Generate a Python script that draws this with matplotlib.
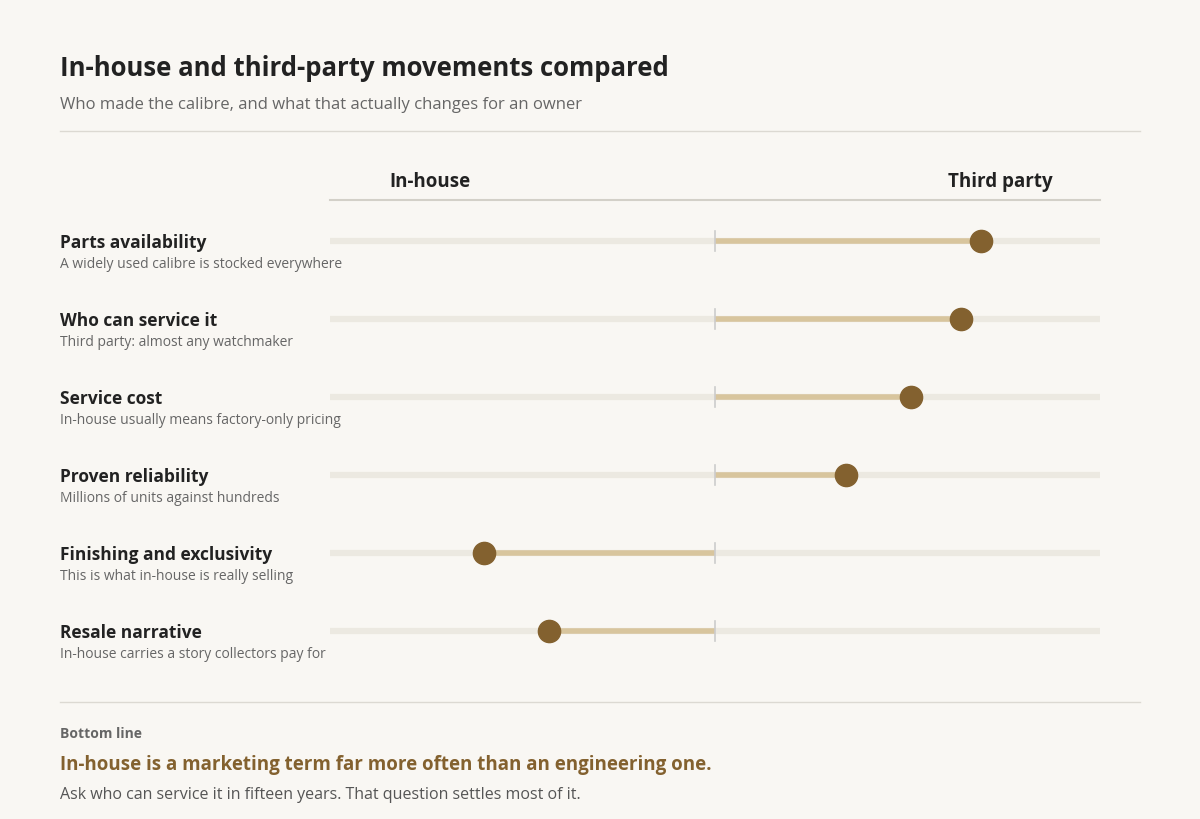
import matplotlib
matplotlib.use("Agg")
import matplotlib.pyplot as plt
from matplotlib.lines import Line2D

plt.rcParams['font.family'] = ['Open Sans', 'DejaVu Sans']

labels = ["Parts availability", "Who can service it", "Service cost",
          "Proven reliability", "Finishing and exclusivity", "Resale narrative"]
notes = ["A widely used calibre is stocked everywhere",
         "Third party: almost any watchmaker",
         "In-house usually means factory-only pricing",
         "Millions of units against hundreds",
         "This is what in-house is really selling",
         "In-house carries a story collectors pay for"]
values = [0.69, 0.64, 0.51, 0.34, -0.60, -0.43]

W, H = 1200, 820
BG = "#f9f7f3"
fig = plt.figure(figsize=(12, 8.2), dpi=100, facecolor=BG)

def fx(x): return x / W
def fy(y): return 1 - (y + 1) / H

def txt(x, y, s, **kw):
    fig.text(fx(x), fy(y), s, va="center", **kw)

def hline(x0, x1, y, color="#dcd9d2", lw=1):
    fig.add_artist(Line2D([fx(x0), fx(x1)], [fy(y), fy(y)], color=color, lw=lw,
                          transform=fig.transFigure))

txt(60, 68, "In-house and third-party movements compared", fontsize=18.5,
    fontweight="bold", color="#222222")
txt(60, 104, "Who made the calibre, and what that actually changes for an owner",
    fontsize=12, color="#666666")
hline(60, 1140, 131)
txt(430, 181, "In-house", fontsize=13.5, fontweight="bold", color="#222222", ha="center")
txt(1000, 181, "Third party", fontsize=13.5, fontweight="bold", color="#222222", ha="center")
hline(330, 1100, 200, color="#d3d0c8", lw=1.5)

ax = fig.add_axes([fx(330), 1 - 671 / H, 770 / W, 468 / H])
ax.set_xlim(-1, 1)
ax.set_ylim(5.5, -0.5)
ax.axis("off")
for i, (lab, note, v) in enumerate(zip(labels, notes, values)):
    ax.plot([-1, 1], [i, i], color="#ece9e1", lw=4.5, solid_capstyle="butt", zorder=1)
    ax.plot([0, v], [i, i], color="#d8c59d", lw=4, solid_capstyle="butt", zorder=2)
    ax.plot([0, 0], [i - 0.13, i + 0.13], color="#cccccc", lw=1.2, zorder=3)
    ax.plot([v], [i], "o", ms=16, color="#83612f", zorder=4)
    y = 242 + 78 * i
    txt(60, y, lab, fontsize=12.5, fontweight="bold", color="#222222")
    txt(60, y + 22, note, fontsize=10, color="#666666")

hline(60, 1140, 702)
txt(60, 733, "Bottom line", fontsize=10, fontweight="bold", color="#666666")
txt(60, 764, "In-house is a marketing term far more often than an engineering one.",
    fontsize=13.5, fontweight="bold", color="#83612f")
txt(60, 794, "Ask who can service it in fifteen years. That question settles most of it.",
    fontsize=11.5, color="#555555")

fig.savefig("out.png", dpi=100, facecolor=BG)
